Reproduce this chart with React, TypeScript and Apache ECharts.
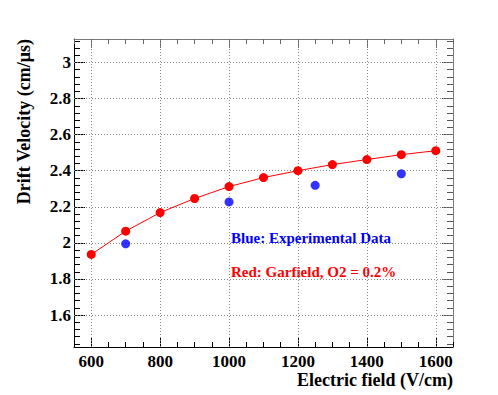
import React, { useEffect, useRef } from "react";
import * as echarts from "echarts";

const redField = [600, 700, 800, 900, 1000, 1100, 1200, 1300, 1400, 1500, 1600];
const redVelocity = [1.936, 2.065, 2.168, 2.246, 2.312, 2.362, 2.4, 2.434, 2.462, 2.489, 2.511];
const blueField = [700, 1000, 1250, 1500];
const blueVelocity = [1.995, 2.227, 2.319, 2.383];

const xMajorTicks = [600, 800, 1000, 1200, 1400, 1600];
const xMinorTicks = [
  550, 650, 700, 750, 850, 900, 950, 1050, 1100, 1150, 1250, 1300, 1350, 1450, 1500, 1550, 1650,
];
const yMajorTicks = [1.6, 1.8, 2.0, 2.2, 2.4, 2.6, 2.8, 3.0];
const yMinorTicks = [
  1.44, 1.48, 1.52, 1.56, 1.64, 1.68, 1.72, 1.76, 1.84, 1.88, 1.92, 1.96, 2.04, 2.08, 2.12, 2.16,
  2.24, 2.28, 2.32, 2.36, 2.44, 2.48, 2.52, 2.56, 2.64, 2.68, 2.72, 2.76, 2.84, 2.88, 2.92, 2.96,
  3.04, 3.08, 3.12,
];

const X_MIN = 550;
const X_MAX = 1650;
const Y_MIN = 1.423;
const Y_MAX = 3.13;

const FONT = "Liberation Serif";

export default function App() {
  const ref = useRef<HTMLDivElement>(null);
  useEffect(() => {
    if (!ref.current) return;
    const chart = echarts.init(ref.current, undefined, { renderer: "svg" });

    const labelStyle = {
      fontFamily: FONT,
      fontWeight: "bold" as const,
      fontSize: 17,
      lineHeight: 15,
      color: "#000",
    };

    const xAxisBase = (position: "bottom" | "top", major: boolean) => ({
      type: "value" as const,
      min: X_MIN,
      max: X_MAX,
      position,
      gridIndex: 0,
      axisLine: {
        show: major,
        onZero: false,
        lineStyle: { color: position === "bottom" ? "#000" : "#7a7a7a", width: 1 },
      },
      axisTick: {
        show: true,
        inside: true,
        length: major ? 9 : 5,
        customValues: major ? xMajorTicks : xMinorTicks,
        lineStyle: { color: position === "bottom" ? "#000" : "#666", width: 1 },
      },
      axisLabel: {
        show: major && position === "bottom",
        customValues: xMajorTicks,
        margin: 7,
        ...labelStyle,
        formatter: (v: number) => String(v),
      },
      splitLine: { show: false },
    });

    const yAxisBase = (position: "left" | "right", major: boolean) => ({
      type: "value" as const,
      min: Y_MIN,
      max: Y_MAX,
      position,
      gridIndex: 0,
      axisLine: {
        show: major,
        onZero: false,
        lineStyle: { color: position === "left" ? "#000" : "#7a7a7a", width: 1 },
      },
      axisTick: {
        show: true,
        inside: true,
        length: major ? 11 : 6,
        customValues: major ? yMajorTicks : yMinorTicks,
        lineStyle: { color: position === "left" ? "#000" : "#555", width: 1 },
      },
      axisLabel: {
        show: major && position === "left",
        customValues: yMajorTicks,
        margin: 3,
        ...labelStyle,
        formatter: (v: number) => String(Math.round(v * 10) / 10),
      },
      splitLine: { show: false },
    });

    const gridLine = { color: "#888", type: [1, 2] as number[], width: 1 };

    chart.setOption({
      animation: false,
      backgroundColor: "#fff",
      grid: { left: 74, right: 45, top: 39, bottom: 48, containLabel: false },
      xAxis: [
        xAxisBase("bottom", true),
        xAxisBase("bottom", false),
        xAxisBase("top", true),
        xAxisBase("top", false),
      ],
      yAxis: [
        yAxisBase("left", true),
        yAxisBase("left", false),
        yAxisBase("right", true),
        yAxisBase("right", false),
      ],
      graphic: [
        {
          type: "text",
          x: 453,
          y: 380,
          style: {
            text: "Electric field (V/cm)",
            fontFamily: FONT,
            fontWeight: "bold",
            fontSize: 18,
            lineHeight: 16,
            fill: "#000",
            align: "right",
            verticalAlign: "middle",
          },
        },
        {
          type: "text",
          x: 24,
          y: 39,
          rotation: Math.PI / 2,
          style: {
            text: "Drift Velocity (cm/\u03bcs)",
            fontFamily: FONT,
            fontWeight: "bold",
            fontSize: 18,
            fill: "#000",
            align: "right",
            verticalAlign: "middle",
          },
        },
        {
          type: "text",
          x: 231,
          y: 238,
          style: {
            text: "Blue: Experimental Data",
            fontFamily: FONT,
            fontWeight: "bold",
            fontSize: 15,
            fill: "#0000ff",
            align: "left",
            verticalAlign: "middle",
          },
        },
        {
          type: "text",
          x: 231,
          y: 272,
          style: {
            text: "Red: Garfield, O2 = 0.2%",
            fontFamily: FONT,
            fontWeight: "bold",
            fontSize: 15,
            fill: "#ff0000",
            align: "left",
            verticalAlign: "middle",
          },
        },
      ],
      series: [
        {
          type: "line",
          xAxisIndex: 0,
          yAxisIndex: 0,
          data: [],
          silent: true,
          markLine: {
            silent: true,
            symbol: ["none", "none"],
            label: { show: false },
            lineStyle: gridLine,
            data: [
              ...xMajorTicks.map((v) => ({ xAxis: v })),
              ...yMajorTicks.map((v) => ({ yAxis: v })),
            ],
          },
        },
        {
          type: "line",
          name: "Garfield",
          xAxisIndex: 0,
          yAxisIndex: 0,
          data: redField.map((x, i) => [x, redVelocity[i]]),
          symbol: "circle",
          symbolSize: 9,
          itemStyle: { color: "#ff0000" },
          lineStyle: { color: "#ff0000", width: 1 },
          z: 5,
        },
        {
          type: "scatter",
          name: "Experimental",
          xAxisIndex: 0,
          yAxisIndex: 0,
          data: blueField.map((x, i) => [x, blueVelocity[i]]),
          symbol: "circle",
          symbolSize: 9,
          itemStyle: { color: "#0000ff" },
          z: 5,
        },
      ],
    });
    return () => chart.dispose();
  }, []);
  return (
    <div
      ref={ref}
      style={{ position: "fixed", left: 0, top: 0, width: 498, height: 395 }}
    />
  );
}
